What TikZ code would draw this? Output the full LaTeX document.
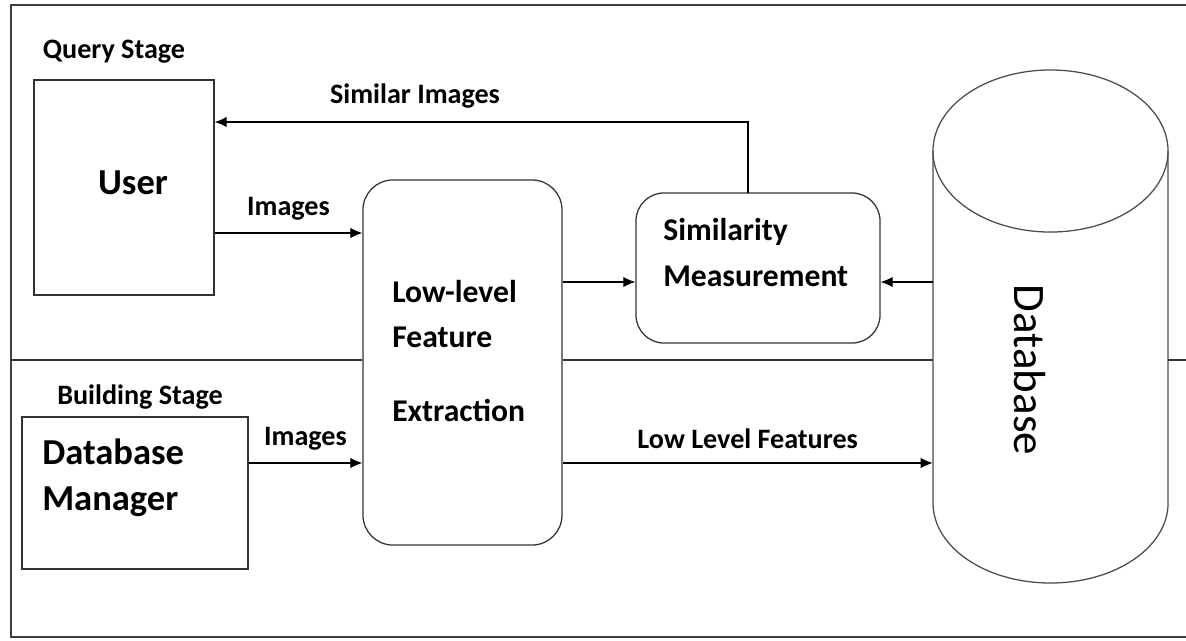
\documentclass[tikz,border=0pt]{standalone}
\usepackage{fontspec}
\setmainfont{Carlito}
\usepackage{tikz}
\usetikzlibrary{arrows.meta,positioning}

\begin{document}
\begin{tikzpicture}[x=0.025cm, y=-0.025cm,
  squarebox/.style={rectangle, draw=black!80, line width=0.9pt, inner sep=0pt},
  roundbox/.style={rectangle, rounded corners=0.75cm, draw=black!80, line width=0.9pt, inner sep=0pt},
  labeltext/.style={font=\fontsize{20}{24}\selectfont\bfseries, inner sep=0pt},
  boxtext/.style={font=\fontsize{22.5}{27}\selectfont\bfseries, inner sep=0pt, anchor=west},
  bigtext/.style={font=\fontsize{26}{31}\selectfont\bfseries, inner sep=0pt},
  flow/.style={-{Latex[length=3mm,width=2.6mm]}, line width=0.8pt}]
\useasboundingbox (0,0) rectangle (1186,640);
% Frame
\draw[line width=1.3pt, draw=black!75] (1186,5) -- (11,5) -- (11,637) -- (1186,637);
% Nodes
\node[squarebox, minimum width=4.5cm, minimum height=5.375cm] (user) at (124,187.5) {};
\node[squarebox, minimum width=5.65cm, minimum height=3.8cm] (dbm) at (135,493) {};
\node[roundbox, minimum width=4.975cm, minimum height=9.125cm] (llfe) at (462.5,362.5) {};
\node[roundbox, rounded corners=0.7cm, minimum width=6.1cm, minimum height=3.75cm] (sim) at (758,268) {};
\node[inner sep=0pt, minimum width=5.875cm, minimum height=8.8cm] (db) at (1050.5,327) {};
\coordinate (simtop) at (748,193);
% Cylinder
\draw[draw=black!70, line width=0.9pt] (933,151) -- (933,503)
  arc[start angle=180, end angle=360, x radius=2.9375cm, y radius=2cm] -- (1168,151);
\draw[draw=black!70, line width=0.9pt] (1050.5,151) ellipse [x radius=2.9375cm, y radius=2.025cm];
% Texts
\node[labeltext] (qs) at (114,52) {Query Stage};
\node[labeltext] (bs) at (140,397) {Building Stage};
\node[bigtext] (usertxt) at (133,183) {User};
\node[bigtext, anchor=west] (dbtxt) at (42,452) {Database};
\node[bigtext, anchor=west] (mgrtxt) at (42,502) {Manager};
\node[boxtext] (lowtxt) at (392,292) {Low-level};
\node[boxtext] (feattxt) at (392,337) {Feature};
\node[boxtext] (extrtxt) at (392,410) {Extraction};
\node[boxtext] (simtxt) at (663,232) {Similarity};
\node[boxtext] (meastxt) at (663,276) {Measurement};
\node[font=\fontsize{32}{38}\selectfont, rotate=-90, inner sep=0pt] (dbname) at (1030,370) {Database};
% Divider
\draw[line width=0.9pt, draw=black!80] (11,360) -- (llfe.west |- 0,360);
\draw[line width=0.9pt, draw=black!80] (llfe.east |- 0,360) -- (db.west |- 0,360);
\draw[line width=0.9pt, draw=black!80] (db.east |- 0,360) -- (1186,360);
% Arrows
\draw[flow] (user.east |- 0,233) -- node[labeltext, above=9pt] {Images} (llfe.west |- 0,233);
\draw[flow] (dbm.east |- 0,463) -- node[labeltext, above=9pt] {Images} (llfe.west |- 0,463);
\draw[flow] (llfe.east |- 0,282) -- (sim.west |- 0,282);
\draw[flow] (db.west |- 0,282) -- (sim.east |- 0,282);
\draw[flow] (llfe.east |- 0,463) -- node[labeltext, above=10pt] {Low Level Features} (db.west |- 0,463);
\draw[flow] (simtop) |- (user.east |- 0,122);
\node[labeltext] (simimg) at (415,96) {Similar Images};
\end{tikzpicture}
\end{document}
